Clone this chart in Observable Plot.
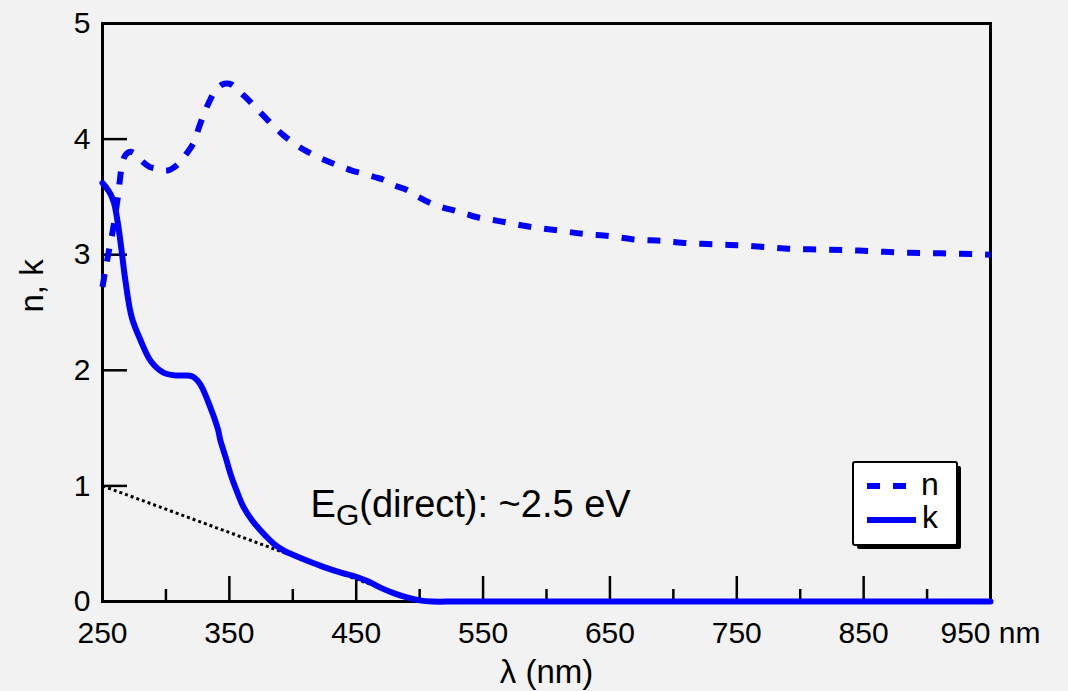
<!DOCTYPE html>
<html>
<head>
<meta charset="utf-8">
<script src="https://cdn.jsdelivr.net/npm/d3@7"></script>
<script src="https://cdn.jsdelivr.net/npm/@observablehq/plot@0.6"></script>
<style>
  html, body { margin: 0; padding: 0; background: #f2f2f2; }
  #chart { width: 1068px; height: 691px; }
</style>
</head>
<body>
<div id="chart"></div>
<script>
// ---- data ----
const xMajorTicks = [250, 350, 450, 550, 650, 750, 850, 950];
const xMinorTicks = [300, 400, 500, 600, 700, 800, 900];
const yTicks = [0, 1, 2, 3, 4, 5];

const nWavelength = [250, 252, 255, 258, 262, 265.5, 268, 272, 276, 281, 287, 292, 297, 302, 307, 311, 316, 322, 326, 330, 334, 339, 344, 348, 352, 355, 360, 364, 370, 378, 385, 393, 400, 410, 417, 427, 436, 446, 456, 465, 471, 480, 490, 499, 508, 518, 528, 537, 547, 558, 568, 588, 609, 629, 650, 671, 691, 711, 733, 753, 774, 794, 815, 836, 856, 877, 897, 918, 939, 950];
const nValues = [2.72, 2.85, 3.03, 3.20, 3.49, 3.78, 3.86, 3.89, 3.87, 3.81, 3.76, 3.745, 3.73, 3.73, 3.76, 3.80, 3.87, 3.97, 4.10, 4.22, 4.32, 4.42, 4.47, 4.48, 4.47, 4.44, 4.39, 4.35, 4.28, 4.19, 4.11, 4.03, 3.97, 3.90, 3.86, 3.81, 3.77, 3.73, 3.70, 3.67, 3.65, 3.60, 3.56, 3.50, 3.45, 3.41, 3.38, 3.35, 3.32, 3.30, 3.28, 3.24, 3.21, 3.18, 3.16, 3.13, 3.12, 3.10, 3.09, 3.08, 3.065, 3.05, 3.045, 3.04, 3.03, 3.02, 3.015, 3.01, 3.005, 3.0];

const kWavelength = [250, 253, 256, 259, 262, 265, 268, 273, 280, 288, 298, 308, 317, 322, 327, 335, 341, 343, 347, 351, 356, 361, 368, 375, 385, 393, 401, 412, 424, 438, 451, 460, 469, 480, 490, 500, 510, 530, 600, 700, 800, 950];
const kValues = [3.62, 3.58, 3.53, 3.45, 3.28, 3.04, 2.78, 2.46, 2.26, 2.08, 1.98, 1.955, 1.955, 1.94, 1.88, 1.68, 1.49, 1.39, 1.25, 1.10, 0.95, 0.82, 0.70, 0.61, 0.50, 0.44, 0.40, 0.35, 0.30, 0.25, 0.21, 0.17, 0.12, 0.07, 0.035, 0.01, 0.0, 0.0, 0.0, 0.0, 0.0, 0.0];

const tangentWavelength = [250, 498];
const tangentValues = [1.0, 0.0];

const annotationText = "EG(direct): ~2.5 eV";
const annotationPos = {x: 414, y: 0.832};
const seriesLabels = ["n", "k"];
const xLabel = "λ (nm)";
const yLabel = "n, k";

// ---- layout ----
const W = 1068, H = 691;
const mL = 102, mR = 78, mT = 23, mB = 90;
const xDomain = [250, 950], yDomain = [0, 5];
const nmPerPx = (xDomain[1] - xDomain[0]) / (W - mL - mR);
const unitPerPx = (yDomain[1] - yDomain[0]) / (H - mT - mB);
const blue = "#0000ff";
const font = "'Liberation Sans', Arial, Helvetica, sans-serif";

const nData = nWavelength.map((x, i) => ({x, y: nValues[i]}));
const kData = kWavelength.map((x, i) => ({x, y: kValues[i]}));
const tData = tangentWavelength.map((x, i) => ({x, y: tangentValues[i]}));

const plot = Plot.plot({
  width: W, height: H,
  marginLeft: mL, marginRight: mR, marginTop: mT, marginBottom: mB,
  x: {domain: xDomain},
  y: {domain: yDomain},
  style: {background: "#f2f2f2", fontFamily: font, color: "black", overflow: "visible"},
  marks: [
    Plot.axisX({ticks: xMajorTicks, tickSize: 0, tickPadding: 20, fontSize: 30, label: null,
      tickFormat: d => d === 950 ? "950 nm" : String(d)}),
    Plot.axisY({ticks: yTicks, tickSize: 0, tickPadding: 12, fontSize: 30, label: null,
      tickFormat: d => String(d)}),
    Plot.ruleX(xMajorTicks, {x: d => d, y1: yDomain[0], y2: yDomain[0] + 25 * unitPerPx, stroke: "black", strokeWidth: 2.5}),
    Plot.ruleX(xMinorTicks, {x: d => d, y1: yDomain[0], y2: yDomain[0] + 12 * unitPerPx, stroke: "black", strokeWidth: 2.5}),
    Plot.ruleY(yTicks, {y: d => d, x1: xDomain[0], x2: xDomain[0] + 25 * nmPerPx, stroke: "black", strokeWidth: 2.5}),
    Plot.frame({stroke: "black", strokeWidth: 3}),
    Plot.line(tData, {x: "x", y: "y", stroke: "black", strokeWidth: 3, strokeDasharray: "3,3", strokeLinecap: "butt"}),
    Plot.line(nData, {x: "x", y: "y", stroke: blue, strokeWidth: 6, strokeDasharray: "13,13", strokeLinecap: "butt", curve: "catmull-rom"}),
    Plot.line(kData, {x: "x", y: "y", stroke: blue, strokeWidth: 6, curve: "catmull-rom"}),
    Plot.text([annotationText], {x: annotationPos.x, y: annotationPos.y, textAnchor: "start", lineAnchor: "middle", fontSize: 38, fill: "black"}),
    Plot.text([yLabel], {frameAnchor: "left", dx: -69.6, rotate: -90, lineAnchor: "middle", fontSize: 33, fill: "black"}),
    Plot.text([xLabel], {frameAnchor: "bottom", dy: 71.4, lineAnchor: "middle", fontSize: 33, fill: "black"})
  ]
});

document.getElementById("chart").appendChild(plot);

// subscript G in annotation
plot.querySelectorAll("text").forEach(t => {
  if (t.textContent === annotationText) {
    t.textContent = "";
    const ns = "http://www.w3.org/2000/svg";
    const a = document.createElementNS(ns, "tspan"); a.textContent = "E";
    const b = document.createElementNS(ns, "tspan"); b.textContent = "G";
    b.setAttribute("font-size", "30"); b.setAttribute("dy", "8");
    const c = document.createElementNS(ns, "tspan"); c.textContent = "(direct): ~2.5 eV";
    c.setAttribute("dy", "-8");
    t.append(a, b, c);
  }
});

// legend box inside the frame (lower right)
const svg = d3.select(plot);
const frameRight = W - mR, frameBottom = H - mB;
const bx = frameRight - 137, by = frameBottom - 139, bw = 104, bh = 83;
const lg = svg.append("g").attr("font-family", font).attr("font-size", 32);
lg.append("rect").attr("x", bx + 4).attr("y", by + 4).attr("width", bw).attr("height", bh).attr("rx", 2).attr("fill", "black");
lg.append("rect").attr("x", bx).attr("y", by).attr("width", bw).attr("height", bh).attr("rx", 2)
  .attr("fill", "white").attr("stroke", "black").attr("stroke-width", 2);
lg.append("line").attr("x1", bx + 14).attr("x2", bx + 65).attr("y1", by + 24).attr("y2", by + 24)
  .attr("stroke", blue).attr("stroke-width", 6).attr("stroke-dasharray", "13,13");
lg.append("line").attr("x1", bx + 14).attr("x2", bx + 63).attr("y1", by + 58).attr("y2", by + 58)
  .attr("stroke", blue).attr("stroke-width", 6);
lg.append("text").attr("x", bx + 77).attr("y", by + 33).attr("fill", "black").text(seriesLabels[0]);
lg.append("text").attr("x", bx + 77).attr("y", by + 66).attr("fill", "black").text(seriesLabels[1]);
</script>
</body>
</html>
